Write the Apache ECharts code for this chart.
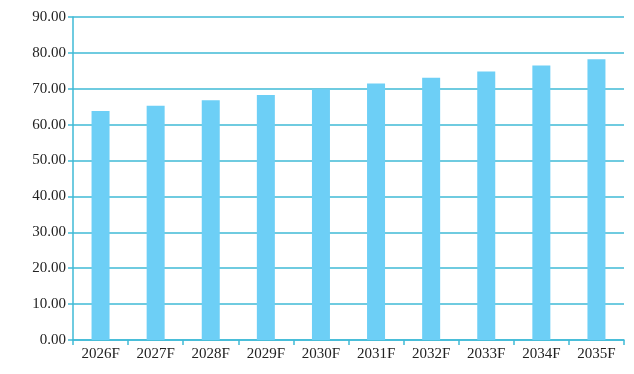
<!DOCTYPE html>
<html><head><meta charset="utf-8">
<script src="https://cdn.jsdelivr.net/npm/echarts@6/dist/echarts.min.js"></script>
<style>html,body{margin:0;padding:0;background:#fff}#c{width:634px;height:374px}</style>
</head><body><div id="c"></div>
<script>
const categories = ['2026F','2027F','2028F','2029F','2030F','2031F','2032F','2033F','2034F','2035F'];
const values = [63.8, 65.3, 66.8, 68.3, 69.9, 71.5, 73.1, 74.8, 76.5, 78.2];
const axisColor = '#3fbad6';
const font = '"Liberation Serif", "Times New Roman", serif';
const chart = echarts.init(document.getElementById('c'));
chart.setOption({
  animation: false,
  grid: {left: 73, right: 10, top: 17, bottom: 34, containLabel: false},
  xAxis: {
    type: 'category', data: categories, boundaryGap: true,
    axisLine: {lineStyle: {color: axisColor, width: 1.5}},
    axisTick: {show: true, length: 5, lineStyle: {color: axisColor, width: 1.5}, alignWithLabel: false},
    axisLabel: {color: '#222', fontFamily: font, fontSize: 15, margin: 7}
  },
  yAxis: {
    type: 'value', min: 0, max: 90, interval: 10,
    axisLine: {show: true, lineStyle: {color: axisColor, width: 1.5}},
    axisTick: {show: true, length: 5, lineStyle: {color: axisColor, width: 1.5}},
    splitLine: {lineStyle: {color: axisColor, width: 1.5}},
    axisLabel: {color: '#222', fontFamily: font, fontSize: 15, margin: 7, formatter: v => v.toFixed(2)}
  },
  series: [{
    type: 'bar', data: values, barWidth: 18,
    itemStyle: {color: '#6dcff6'}
  }]
});
</script></body></html>
